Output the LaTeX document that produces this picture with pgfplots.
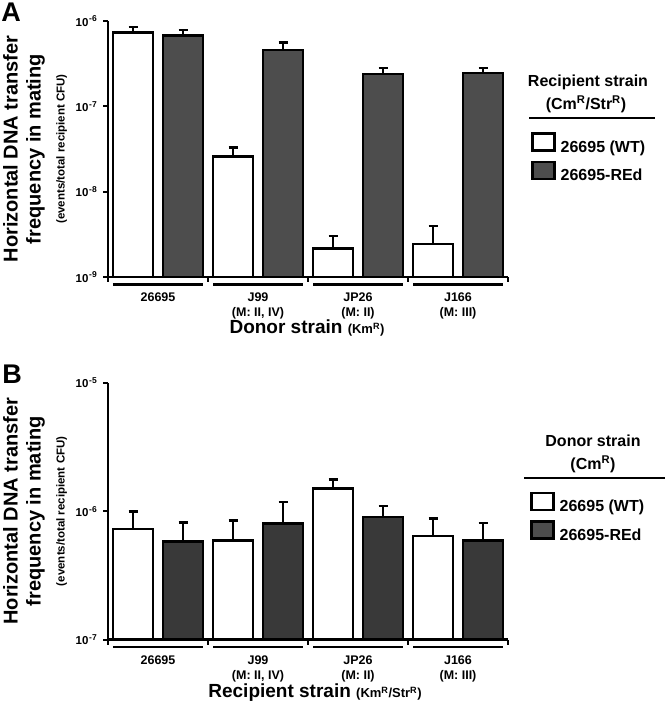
\documentclass[border=0pt]{standalone}
\usepackage{pgfplots}
\pgfplotsset{compat=1.18}
\usepackage{pgfplotstable}
\usepackage{fontspec}
\setmainfont{Liberation Sans}

\definecolor{barA}{HTML}{4D4D4D}
\definecolor{barB}{HTML}{393939}

% log tick label: 10 with a raised exponent
\newcommand{\tl}[1]{\fontsize{11.5}{13}\selectfont 10\kern0.8pt\raisebox{4.2pt}{\fontsize{8.5}{9}\selectfont #1}}

% g = strain group, wt/red = mean frequency, wte/rede = upper error
\pgfplotstableread{
g wt      wte     red     rede
0 7.3e-7  1.2e-7  6.76e-7 1.1e-7
1 2.58e-8 0.72e-8 4.6e-7  1.0e-7
2 2.16e-9 0.85e-9 2.4e-7  0.4e-7
3 2.45e-9 1.5e-9  2.45e-7 0.35e-7
}\dataA

\pgfplotstableread{
g wt      wte     red     rede
0 7.3e-7  2.7e-7  5.8e-7  2.4e-7
1 5.9e-7  2.6e-7  8.0e-7  3.8e-7
2 1.5e-6  0.27e-6 9.0e-7  2.0e-7
3 6.4e-7  2.4e-7  5.9e-7  2.2e-7
}\dataB

\begin{document}
\bfseries
\begin{tikzpicture}
\useasboundingbox (0,0) rectangle (666pt,-707pt);

% ---------- panel A ----------
\begin{axis}[
    at={(108pt,-277pt)}, anchor=south west,
    scale only axis, width=400pt, height=256pt,
    ymode=log, log origin=infty,
    xmin=-0.5, xmax=7.5, ymin=1e-9, ymax=1e-6,
    axis x line*=bottom, axis y line*=left,
    axis line style={line width=2.5pt, black},
    tick align=outside, major tick length=5pt, minor tick length=5pt,
    tick style={line width=2pt, black},
    every major x tick/.append style={draw=none, opacity=0},
    yminorticks=false,
    xtick={0.5,2.5,4.5,6.5},
    minor xtick={-0.5,1.5,3.5,5.5,7.5},
    xticklabels={{\rule{90pt}{2.5pt}\\[1pt]26695},
                 {\rule{90pt}{2.5pt}\\[1pt]J99\\(M: II, IV)},
                 {\rule{90pt}{2.5pt}\\[1pt]JP26\\(M: II)},
                 {\rule{90pt}{2.5pt}\\[1pt]J166\\(M: III)}},
    xticklabel style={align=center, anchor=north, inner sep=0pt, yshift=-1pt,
                      font=\fontsize{12.5}{15}\selectfont},
    ytick={1e-9,1e-8,1e-7,1e-6},
    yticklabels={\tl{-9},\tl{-8},\tl{-7},\tl{-6}},
    yticklabel style={inner sep=1pt, xshift=-5pt},
    ylabel={Horizontal DNA transfer\\frequency in mating\\[1pt]{\fontsize{11.5}{13}\selectfont (events/total recipient CFU)}},
    ylabel style={font=\fontsize{20}{23}\selectfont, align=center,
                  at={(axis description cs:-0.1825,0.5)}, anchor=center},
    xlabel={Donor strain {\fontsize{13}{15}\selectfont (Km\textsuperscript{R})}},
    xlabel style={font=\fontsize{19}{22}\selectfont, at={(axis description cs:0.4975,-0.199)}, anchor=center},
    legend cell align=left,
    legend style={at={(1.0575,0.566)}, anchor=north west, draw=none, fill=none,
                  inner sep=0pt, row sep=5pt, font=\fontsize{16}{18}\selectfont},
]
\addplot[ybar, bar width=40pt, bar shift=0pt, fill=white, draw=black, line width=2.5pt,
    legend image code/.code={\draw[fill=white, draw=black, line width=2.5pt] (0pt,-3.5pt) rectangle (22pt,13.5pt);},
    error bars/y dir=plus, error bars/y explicit,
    error bars/error bar style={line width=2pt, black},
    error bars/error mark options={rotate=90, line width=2.5pt, mark size=4.5pt, black}]
  table [x expr=2*\thisrow{g}, y=wt, y error=wte] {\dataA};
\addlegendentry{\hspace{3pt}26695 (WT)}
\addplot[ybar, bar width=40pt, bar shift=0pt, fill=barA, draw=black, line width=2.5pt,
    legend image code/.code={\draw[fill=barA, draw=black, line width=2.5pt] (0pt,-3.5pt) rectangle (22pt,13.5pt);},
    error bars/y dir=plus, error bars/y explicit,
    error bars/error bar style={line width=2pt, black},
    error bars/error mark options={rotate=90, line width=2.5pt, mark size=4.5pt, black}]
  table [x expr=2*\thisrow{g}+1, y=red, y error=rede] {\dataA};
\addlegendentry{\hspace{3pt}26695-REd}
\end{axis}

\node[font=\fontsize{27}{30}\selectfont] at (11pt,-12pt) {A};
\node[font=\fontsize{16}{18}\selectfont] at (588pt,-82pt) {Recipient strain};
\node[font=\fontsize{16}{18}\selectfont] at (586pt,-104pt) {(Cm\textsuperscript{R}/Str\textsuperscript{R})};
\draw[line width=2.5pt] (529pt,-118pt) -- (655pt,-118pt);

% ---------- panel B ----------
\begin{axis}[
    at={(108pt,-639.5pt)}, anchor=south west,
    scale only axis, width=400pt, height=256.5pt,
    ymode=log, log origin=infty,
    xmin=-0.5, xmax=7.5, ymin=1e-7, ymax=1e-5,
    axis x line*=bottom, axis y line*=left,
    axis line style={line width=2.5pt, black},
    tick align=outside, major tick length=5pt, minor tick length=5pt,
    tick style={line width=2pt, black},
    every major x tick/.append style={draw=none, opacity=0},
    yminorticks=false,
    xtick={0.5,2.5,4.5,6.5},
    minor xtick={-0.5,1.5,3.5,5.5,7.5},
    xticklabels={{\rule{90pt}{2.5pt}\\[1pt]26695},
                 {\rule{90pt}{2.5pt}\\[1pt]J99\\(M: II, IV)},
                 {\rule{90pt}{2.5pt}\\[1pt]JP26\\(M: II)},
                 {\rule{90pt}{2.5pt}\\[1pt]J166\\(M: III)}},
    xticklabel style={align=center, anchor=north, inner sep=0pt, yshift=-1pt,
                      font=\fontsize{12.5}{15}\selectfont},
    ytick={1e-7,1e-6,1e-5},
    yticklabels={\tl{-7},\tl{-6},\tl{-5}},
    yticklabel style={inner sep=1pt, xshift=-5pt},
    ylabel={Horizontal DNA transfer\\frequency in mating\\[1pt]{\fontsize{11.5}{13}\selectfont (events/total recipient CFU)}},
    ylabel style={font=\fontsize{20}{23}\selectfont, align=center,
                  at={(axis description cs:-0.1825,0.5)}, anchor=center},
    xlabel={Recipient strain {\fontsize{13}{15}\selectfont (Km\textsuperscript{R}/Str\textsuperscript{R})}},
    xlabel style={font=\fontsize{19}{22}\selectfont, at={(axis description cs:0.5175,-0.2086)}, anchor=center},
    legend cell align=left,
    legend style={at={(1.055,0.576)}, anchor=north west, draw=none, fill=none,
                  inner sep=0pt, row sep=5pt, font=\fontsize{16}{18}\selectfont},
]
\addplot[ybar, bar width=40pt, bar shift=0pt, fill=white, draw=black, line width=2.5pt,
    legend image code/.code={\draw[fill=white, draw=black, line width=2.5pt] (0pt,-3.5pt) rectangle (22pt,13.5pt);},
    error bars/y dir=plus, error bars/y explicit,
    error bars/error bar style={line width=2pt, black},
    error bars/error mark options={rotate=90, line width=2.5pt, mark size=4.5pt, black}]
  table [x expr=2*\thisrow{g}, y=wt, y error=wte] {\dataB};
\addlegendentry{\hspace{3pt}26695 (WT)}
\addplot[ybar, bar width=40pt, bar shift=0pt, fill=barB, draw=black, line width=2.5pt,
    legend image code/.code={\draw[fill=barA, draw=black, line width=2.5pt] (0pt,-3.5pt) rectangle (22pt,13.5pt);},
    error bars/y dir=plus, error bars/y explicit,
    error bars/error bar style={line width=2pt, black},
    error bars/error mark options={rotate=90, line width=2.5pt, mark size=4.5pt, black}]
  table [x expr=2*\thisrow{g}+1, y=red, y error=rede] {\dataB};
\addlegendentry{\hspace{3pt}26695-REd}
\end{axis}

\node[font=\fontsize{27}{30}\selectfont] at (12pt,-374pt) {B};
\node[font=\fontsize{16}{18}\selectfont] at (593pt,-441pt) {Donor strain};
\node[font=\fontsize{16}{18}\selectfont] at (593pt,-464pt) {(Cm\textsuperscript{R})};
\draw[line width=2.5pt] (524pt,-478pt) -- (665pt,-478pt);
\end{tikzpicture}
\end{document}
